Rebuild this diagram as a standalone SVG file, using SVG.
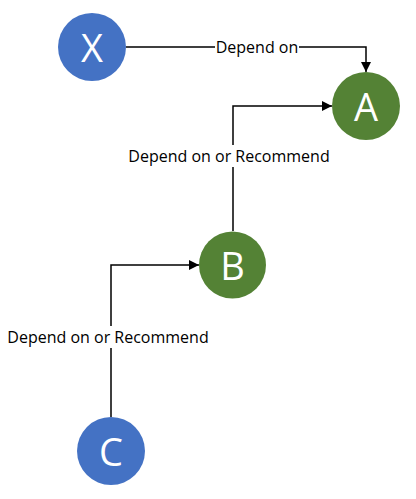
<svg xmlns="http://www.w3.org/2000/svg" width="416" height="499" viewBox="0 0 416 499">
<style>
.edge{fill:none;stroke:#000;stroke-width:1.5}
.lbl{font-family:"Open Sans","Noto Sans",sans-serif;font-size:16px;fill:#000;text-anchor:middle;dominant-baseline:central}
.bg{fill:#fff}
.node text{font-family:"Open Sans","Noto Sans",sans-serif;font-size:38px;fill:#fff;text-anchor:middle;dominant-baseline:central}
.blue{fill:#4472C4}
.green{fill:#548235}
</style>
<defs>
<marker id="arr" markerWidth="10" markerHeight="10" refX="10" refY="5" orient="auto" markerUnits="userSpaceOnUse">
<path d="M0,0 L10,5 L0,10 Z" fill="#000"/>
</marker>
</defs>
<g id="connectors">
<path class="edge" d="M126,47 H366 V72" marker-end="url(#arr)"/>
<rect class="bg" x="215" y="38" width="84" height="18"/>
<text class="lbl" x="257" y="47">Depend on</text>
<path class="edge" d="M233,231 V106 H332" marker-end="url(#arr)"/>
<rect class="bg" x="125" y="145" width="208" height="22"/>
<text class="lbl" x="229" y="156">Depend on or Recommend</text>
<path class="edge" d="M111,417 V265 H199" marker-end="url(#arr)"/>
<rect class="bg" x="4" y="326" width="208" height="22"/>
<text class="lbl" x="108" y="337">Depend on or Recommend</text>
</g>
<g id="X" class="node"><circle class="blue" cx="92" cy="47" r="34"/><text x="92" y="47">X</text></g>
<g id="A" class="node"><circle class="green" cx="366" cy="106" r="34"/><text x="366" y="106">A</text></g>
<g id="B" class="node"><circle class="green" cx="232.5" cy="265" r="33.5"/><text x="232.5" y="265">B</text></g>
<g id="C" class="node"><circle class="blue" cx="111" cy="451" r="34"/><text x="111" y="451">C</text></g>
</svg>
